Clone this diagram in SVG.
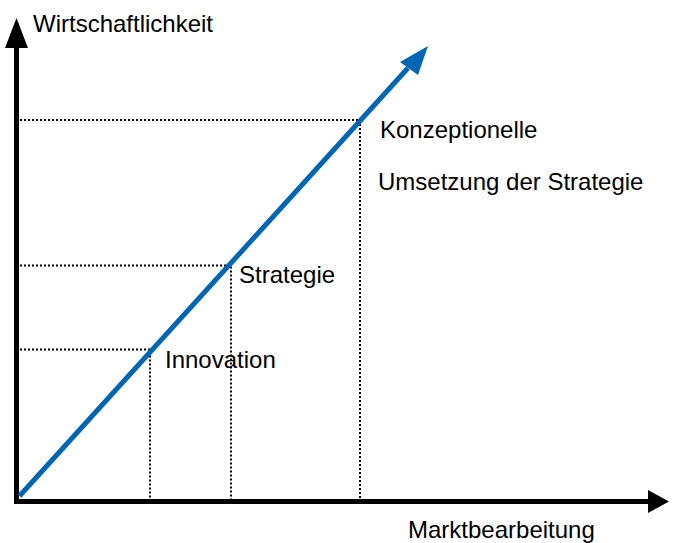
<svg xmlns="http://www.w3.org/2000/svg" width="675" height="543" viewBox="0 0 675 543">
<style>
.lbl{font-family:"Liberation Sans",Arial,sans-serif;font-size:24px;fill:#000}
.dot{stroke:#000;stroke-width:2;stroke-dasharray:2 2;fill:none}
.axis{stroke:#000;stroke-width:5;fill:none}
</style>
<rect width="675" height="543" fill="#fff"/>
<g id="guides">
<path class="dot" d="M20 120H360V500"/>
<path class="dot" d="M20 265.5H231V500"/>
<path class="dot" d="M20 349.5H150V500"/>
</g>
<g id="axes">
<path class="axis" d="M16.5 502V46"/>
<polygon points="16.5,18 5,48 28,48" fill="#000"/>
<path class="axis" d="M14 501.5H650"/>
<polygon points="669,501.5 648,490 648,513" fill="#000"/>
</g>
<g id="connectors">
<path d="M19.5 496L408 68" stroke="#0066b3" stroke-width="5" fill="none"/>
<polygon points="428,46 400,62 418,75" fill="#0066b3"/>
</g>
<g id="labels">
<text class="lbl" x="33" y="32">Wirtschaftlichkeit</text>
<text class="lbl" x="408" y="538">Marktbearbeitung</text>
<text class="lbl" x="380" y="138">Konzeptionelle</text>
<text class="lbl" x="378" y="190">Umsetzung der Strategie</text>
<text class="lbl" x="239" y="283">Strategie</text>
<text class="lbl" x="165" y="368">Innovation</text>
</g>
</svg>
